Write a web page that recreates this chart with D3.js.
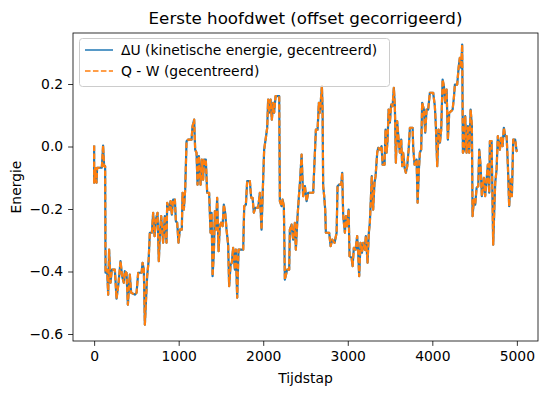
<!DOCTYPE html>
<html><head><meta charset="utf-8">
<script src="https://cdn.jsdelivr.net/npm/d3@7"></script>
<style>
html,body{margin:0;padding:0;background:#fff;}
text{font-family:"DejaVu Sans",sans-serif;fill:#000;}
</style></head>
<body>
<svg id="chart" width="547" height="393"></svg>
<script>
const titleText = "Eerste hoofdwet (offset gecorrigeerd)";
const xLabel = "Tijdstap";
const yLabel = "Energie";
const seriesNames = ["ΔU (kinetische energie, gecentreerd)", "Q - W (gecentreerd)"];
const xTicks = [0, 1000, 2000, 3000, 4000, 5000];
const yTicks = [-0.6, -0.4, -0.2, 0.0, 0.2];
const xLimits = [-250, 5250];
const yLimits = [-0.6224, 0.3632];

const steps = [0,0,12,28,35,91,99,106,118,130,135,154,166,177,194,209,245,265,289,312,331,351,363,383,399,422,438,481,502,521,561,573,588,600,612,627,644,659,683,698,715,730,750,765,777,793,816,836,856,864,887,904,919,935,955,967,982,998,1014,1037,1046,1061,1077,1093,1112,1152,1164,1183,1195,1211,1223,1239,1259,1274,1289,1301,1321,1337,1360,1377,1389,1401,1416,1428,1440,1455,1472,1487,1502,1519,1534,1550,1566,1585,1597,1614,1629,1644,1665,1676,1692,1708,1763,1775,1795,1810,1842,1857,1874,1889,1905,1940,1960,1980,1999,2011,2031,2047,2058,2070,2087,2102,2118,2129,2146,2189,2197,2217,2229,2244,2256,2283,2307,2315,2335,2354,2374,2386,2406,2422,2434,2454,2472,2493,2513,2532,2591,2611,2623,2643,2658,2670,2682,2694,2702,2709,2721,2733,2741,2780,2797,2816,2844,2868,2879,2898,2922,2934,2946,2966,2978,2993,3010,3021,3045,3057,3072,3092,3111,3123,3135,3151,3167,3182,3202,3214,3234,3249,3261,3276,3284,3300,3316,3329,3348,3360,3380,3400,3412,3435,3447,3459,3471,3483,3498,3513,3530,3545,3557,3569,3584,3601,3616,3632,3644,3655,3672,3687,3703,3720,3735,3767,3774,3790,3814,3826,3841,3853,3868,3880,3900,3916,3932,3951,3971,4010,4030,4042,4058,4074,4090,4105,4122,4137,4152,4169,4184,4200,4223,4240,4255,4267,4294,4311,4326,4342,4353,4362,4377,4389,4405,4421,4436,4453,4468,4476,4492,4507,4524,4543,4555,4571,4586,4610,4625,4642,4657,4673,4681,4701,4713,4720,4732,4744,4760,4775,4799,4815,4831,4846,4862,4879,4894,4909,4926,4941,4957,4980,4997,5000];

const deltaU = [0.003,-0.116,-0.068,-0.116,-0.068,-0.068,-0.031,0.003,-0.063,-0.063,-0.404,-0.394,-0.474,-0.330,-0.436,-0.394,-0.394,-0.487,-0.436,-0.367,-0.415,-0.436,-0.399,-0.404,-0.506,-0.410,-0.468,-0.474,-0.468,-0.404,-0.404,-0.372,-0.394,-0.570,-0.500,-0.415,-0.367,-0.276,-0.276,-0.212,-0.287,-0.234,-0.212,-0.367,-0.287,-0.223,-0.308,-0.223,-0.308,-0.180,-0.202,-0.175,-0.218,-0.170,-0.170,-0.239,-0.244,-0.308,-0.266,-0.266,-0.148,-0.202,-0.138,0.017,0.022,0.022,0.065,0.086,-0.010,-0.020,-0.122,-0.031,-0.122,-0.042,-0.106,-0.042,-0.042,-0.148,-0.148,-0.276,-0.212,-0.415,-0.340,-0.207,-0.266,-0.164,-0.335,-0.255,-0.244,-0.255,-0.186,-0.212,-0.266,-0.314,-0.447,-0.378,-0.372,-0.324,-0.394,-0.330,-0.484,-0.330,-0.330,-0.191,-0.186,-0.111,-0.111,-0.164,-0.164,-0.212,-0.196,-0.196,-0.148,-0.266,-0.106,-0.010,0.028,0.060,0.150,0.108,0.150,0.086,0.140,0.108,0.161,0.161,-0.175,-0.191,-0.170,-0.191,-0.426,-0.394,-0.394,-0.266,-0.250,-0.298,-0.244,-0.330,-0.223,-0.159,-0.116,-0.026,-0.159,-0.127,-0.175,-0.148,-0.148,-0.020,0.054,0.054,0.140,0.108,0.150,0.193,0.118,-0.127,-0.159,-0.202,-0.276,-0.276,-0.319,-0.298,-0.308,-0.276,-0.127,-0.122,-0.122,-0.084,-0.223,-0.276,-0.223,-0.255,-0.202,-0.351,-0.356,-0.383,-0.324,-0.330,-0.287,-0.340,-0.415,-0.308,-0.340,-0.308,-0.330,-0.287,-0.372,-0.276,-0.244,-0.148,-0.095,-0.202,-0.116,-0.095,-0.020,-0.004,-0.010,0.001,-0.058,-0.058,0.054,-0.020,0.022,0.118,0.076,0.134,0.129,0.188,0.129,-0.052,0.081,0.022,-0.020,0.022,-0.063,-0.020,-0.068,-0.084,-0.063,-0.010,0.060,0.060,-0.004,-0.058,-0.042,-0.180,-0.074,-0.020,-0.010,0.140,0.118,0.044,0.118,0.118,0.172,0.172,0.129,0.065,-0.063,0.054,0.012,0.054,0.214,0.193,0.140,0.182,0.022,0.108,0.113,0.118,0.156,0.198,0.198,0.252,0.284,0.252,0.326,-0.020,-0.010,0.097,-0.020,0.065,-0.020,0.118,0.065,-0.223,-0.170,-0.186,-0.132,-0.127,-0.010,-0.063,-0.159,-0.100,-0.159,-0.106,-0.058,-0.148,0.017,0.017,-0.191,-0.314,-0.212,-0.116,-0.074,0.033,-0.010,0.028,0.001,0.060,0.033,0.033,-0.063,-0.191,-0.106,-0.159,0.022,0.022,-0.015,-0.010];

const qMinusW = deltaU.slice();

const W = 547, H = 393;
const margin = {left: 73, right: 9, top: 33, bottom: 52};
const svg = d3.select("#chart");
const x = d3.scaleLinear().domain(xLimits).range([margin.left, W - margin.right]);
const y = d3.scaleLinear().domain(yLimits).range([H - margin.bottom, margin.top]);

const fmtY = v => d3.format(".1f")(v).replace("-", "\u2212");

const clipId = "plotclip";
svg.append("clipPath").attr("id", clipId).append("rect")
  .attr("x", margin.left).attr("y", margin.top)
  .attr("width", W - margin.left - margin.right).attr("height", H - margin.top - margin.bottom);

const line = d3.line().x((d, i) => x(steps[i])).y(d => y(d));

const g = svg.append("g").attr("clip-path", `url(#${clipId})`);
g.append("path").datum(deltaU).attr("d", line)
  .attr("fill", "none").attr("stroke", "#1f77b4").attr("stroke-width", 2.2)
  .attr("stroke-linejoin", "round");
g.append("path").datum(qMinusW).attr("d", line)
  .attr("fill", "none").attr("stroke", "#ff7f0e").attr("stroke-width", 2.2)
  .attr("stroke-dasharray", "5.55,2.4").attr("stroke-linejoin", "round");

// axes
const xAxis = svg.append("g").attr("transform", `translate(0,${H - margin.bottom})`)
  .call(d3.axisBottom(x).tickValues(xTicks).tickSize(4.9).tickPadding(4.9).tickFormat(d3.format("d")));
const yAxis = svg.append("g").attr("transform", `translate(${margin.left},0)`)
  .call(d3.axisLeft(y).tickValues(yTicks).tickSize(4.9).tickPadding(4.9).tickFormat(fmtY));
[xAxis, yAxis].forEach(a => {
  a.select(".domain").remove();
  a.selectAll("line").attr("stroke", "#000").attr("stroke-width", 0.8);
  a.selectAll("text").attr("font-size", 13.9).attr("font-family", "DejaVu Sans").attr("fill", "#000");
});

// frame
svg.append("rect").attr("x", margin.left).attr("y", margin.top)
  .attr("width", W - margin.left - margin.right).attr("height", H - margin.top - margin.bottom)
  .attr("fill", "none").attr("stroke", "#000").attr("stroke-width", 0.8);

// labels
svg.append("text").attr("x", (margin.left + W - margin.right) / 2).attr("y", 24)
  .attr("text-anchor", "middle").attr("font-size", 16.7).text(titleText);
svg.append("text").attr("x", (margin.left + W - margin.right) / 2).attr("y", 383)
  .attr("text-anchor", "middle").attr("font-size", 13.9).text(xLabel);
svg.append("text").attr("transform", `translate(21,${(margin.top + H - margin.bottom) / 2}) rotate(-90)`)
  .attr("text-anchor", "middle").attr("font-size", 13.9).text(yLabel);

// legend
const leg = svg.append("g");
leg.append("rect").attr("x", 79.5).attr("y", 38.5).attr("width", 310).attr("height", 48).attr("rx", 3)
  .attr("fill", "#fff").attr("fill-opacity", 0.8).attr("stroke", "#ccc").attr("stroke-width", 1);
const colors = ["#1f77b4", "#ff7f0e"];
const dashes = [null, "5.55,2.4"];
seriesNames.forEach((name, i) => {
  const yy = 50 + i * 21;
  leg.append("line").attr("x1", 85).attr("x2", 113).attr("y1", yy).attr("y2", yy)
    .attr("stroke", colors[i]).attr("stroke-width", 1.5).attr("stroke-dasharray", dashes[i]);
  leg.append("text").attr("x", 121).attr("y", yy + 5).attr("font-size", 13.9).text(name);
});
</script>
</body></html>
